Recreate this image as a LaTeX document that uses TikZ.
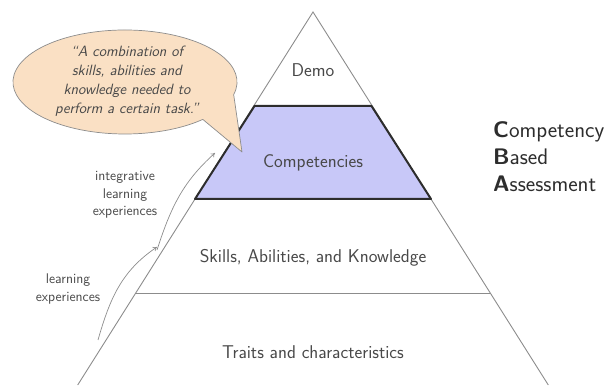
\documentclass[tikz,border=0pt]{standalone}
\usetikzlibrary{arrows.meta}
\definecolor{txt}{RGB}{72,72,72}
\definecolor{edge}{RGB}{140,140,140}
\definecolor{lav}{RGB}{200,200,248}
\definecolor{peach}{RGB}{250,224,196}
\definecolor{dark}{RGB}{45,45,45}
\tikzset{
  lbl/.style={text=txt,font=\sffamily\fontsize{18.5}{22}\selectfont,inner sep=0pt},
  small/.style={text=txt,font=\sffamily\fontsize{14}{17.5}\selectfont,align=center,inner sep=0pt},
  quote/.style={text=txt,font=\sffamily\itshape\fontsize{14.9}{19}\selectfont,align=center,inner sep=0pt},
  cba/.style={text=dark,font=\sffamily\fontsize{22.5}{27}\selectfont,align=left,inner sep=0pt,anchor=west},
  pyr/.style={draw=edge,line width=0.9pt},
  flow/.style={draw=edge,line width=0.7pt,-{To[length=4pt,width=5pt]}},
}
\begin{document}
\begin{tikzpicture}[x=1pt,y=1pt]
\useasboundingbox (0,0) rectangle (604,385);
% pyramid
\coordinate (apex) at (313,373);
\coordinate (bl) at (77.7,0);
\coordinate (br) at (548.3,0);
\draw[pyr] (bl) -- (apex) -- (br);
\coordinate (sl) at (136,92);
\coordinate (sr) at (490,92);
\draw[pyr] (sl) -- (sr);
\coordinate (t1) at (254.5,279);
\coordinate (t2) at (371.5,279);
\coordinate (t3) at (431,186);
\coordinate (t4) at (195,186);
\draw[fill=lav,draw=dark,line width=2pt,line join=round] (t1) -- (t2) -- (t3) -- (t4) -- cycle;
\node[lbl] (demo) at (313,315) {Demo};
\node[lbl] (comp) at (313,222) {Competencies};
\node[lbl] (ska) at (313,127) {Skills, Abilities, and Knowledge};
\node[lbl] (trait) at (313,33) {Traits and characteristics};
\node[cba] (cbanode) at (493,228) {\textbf{C}ompetency\\\textbf{B}ased\\\textbf{A}ssessment};
% speech bubble
\coordinate (bc) at (125,303);
\coordinate (tip) at (242,233);
\fill[peach] (bc) ++(-14:112 and 52) arc[start angle=-14,end angle=314,x radius=112,y radius=52] -- (tip) -- cycle;
\draw[edge,line width=0.7pt,line join=round] (bc) ++(-14:112 and 52) arc[start angle=-14,end angle=314,x radius=112,y radius=52] -- (tip) -- cycle;
\node[quote] (q) at (127,303.5) {``A combination of\\skills, abilities and\\knowledge needed to\\perform a certain task.''};
% arrows
\coordinate (a1s) at (98,45);
\coordinate (a1e) at (157,138);
\coordinate (a2s) at (157,135);
\coordinate (a2e) at (215,232);
\draw[flow] (a1s) to[out=74,in=214] (a1e);
\draw[flow] (a2s) to[out=72,in=222] (a2e);
\node[small] (ile) at (125,190) {integrative\\learning\\experiences};
\node[small] (le) at (68,96) {learning\\experiences};
\end{tikzpicture}
\end{document}
